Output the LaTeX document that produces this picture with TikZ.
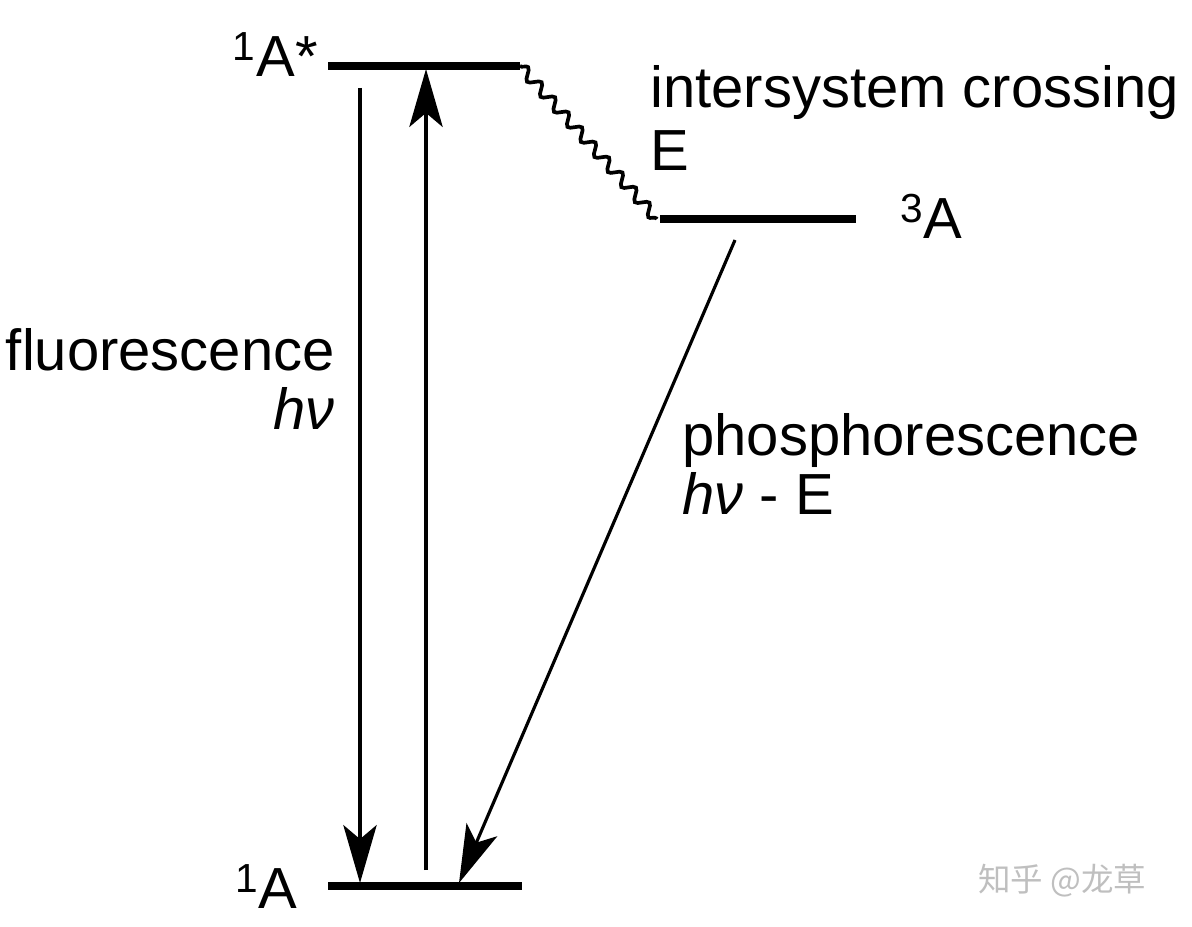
\documentclass[tikz,border=0pt]{standalone}
\usepackage{fontspec}
\setmainfont{Liberation Sans}
\newfontfamily\cjkfont{Noto Sans CJK SC}
\usetikzlibrary{arrows.meta, decorations.pathmorphing}

\begin{document}
\begin{tikzpicture}[x=0.02cm, y=-0.02cm,
    level/.style={line width=4.5pt},
    trans/.style={line width=1.8pt, -{Stealth[length=33pt, width=19pt, inset=8pt]}},
    lbl/.style={font=\fontsize{33}{38}\selectfont, inner sep=0pt}]
    \useasboundingbox (0,0) rectangle (1192,926);
    \coordinate (sL) at (328,66);  \coordinate (sR) at (520,66);
    \coordinate (tL) at (660,219); \coordinate (tR) at (856,219);
    \coordinate (gL) at (328,886); \coordinate (gR) at (522,886);
    \draw[level] (sL) -- (sR);
    \draw[level] (tL) -- (tR);
    \draw[level] (gL) -- (gR);
    \coordinate (flTop) at (360,88);  \coordinate (flEnd) at (360,883);
    \coordinate (abStart) at (426,870); \coordinate (abEnd) at (426,69);
    \coordinate (phStart) at (735,240); \coordinate (phEnd) at (459,883);
    \draw[trans] (flTop) -- (flEnd);
    \draw[trans] (abStart) -- (abEnd);
    \draw[trans] (phStart) -- (phEnd);
    \draw[line width=2.1pt, decorate, decoration={snake, segment length=11.5pt, amplitude=3pt}] (sR) -- (657,219);
    \node[lbl, anchor=base east] (sAlbl) at (318,76) {\textsuperscript{1}A*};
    \node[lbl, anchor=base west] (isc) at (650,108) {intersystem crossing};
    \node[lbl, anchor=base west] (iscE) at (650,170) {E};
    \node[lbl, anchor=base west] (tAlbl) at (900,238) {\textsuperscript{3}A};
    \node[lbl, anchor=base east] (gAlbl) at (298,908) {\textsuperscript{1}A};
    \node[lbl, anchor=base east] (fl) at (335,370) {fluorescence};
    \node[lbl, anchor=base east] (flhv) at (335,429) {\textit{hν}};
    \node[lbl, anchor=base west] (ph) at (682,455) {phosphorescence};
    \node[lbl, anchor=base west] (phhv) at (682,514) {\textit{hν} - E};
    \node[anchor=base west, inner sep=0pt, text=gray!50, font=\cjkfont\fontsize{18.5}{22}\selectfont] (wm) at (978,891) {知乎 @龙草};
\end{tikzpicture}
\end{document}
